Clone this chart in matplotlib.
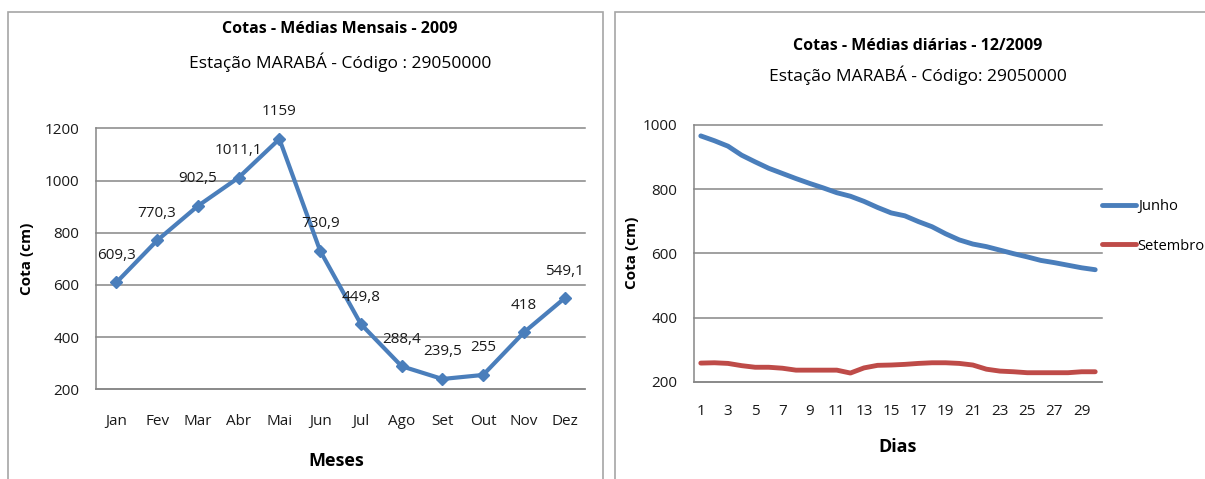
import numpy as np
import matplotlib
matplotlib.use("Agg")
import matplotlib.pyplot as plt
from matplotlib.patches import Rectangle

plt.rcParams['font.family'] = ['Open Sans', 'DejaVu Sans']

# monthly means, 2009
meses = ['Jan', 'Fev', 'Mar', 'Abr', 'Mai', 'Jun', 'Jul', 'Ago', 'Set', 'Out', 'Nov', 'Dez']
cota_mensal = [609.3, 770.3, 902.5, 1011.1, 1159, 730.9, 449.8, 288.4, 239.5, 255, 418, 549.1]

# daily means
dias = list(range(1, 31))
junho = [966, 951, 934, 906, 885, 865, 849, 833, 818, 804,
         789, 778, 762, 743, 726, 717, 699, 683, 661, 642,
         629, 621, 610, 599, 589, 578, 571, 563, 555, 549]
setembro = [258, 259, 257, 250, 245, 245, 242, 236, 236, 236,
            236, 227, 243, 251, 252, 254, 257, 259, 259, 257,
            252, 239, 233, 231, 228, 228, 228, 228, 231, 231]

AZUL = '#4A7EBB'
VERMELHO = '#BE4B48'
GRADE = '#868686'

W, H = 1205, 479
fig = plt.figure(figsize=(W / 100, H / 100), dpi=100)


def caixa(x0, y0, x1, y1):
    # pixel box (top-left origin) -> figure fraction rect
    return [x0 / W, 1 - y1 / H, (x1 - x0) / W, (y1 - y0) / H]


# chart frames
for x0, x1 in [(8, 603), (615, 1215)]:
    fig.patches.append(Rectangle((x0 / W, 1 - 490 / H), (x1 - x0) / W, (490 - 12) / H,
                                 transform=fig.transFigure, fill=False,
                                 ec='#a6a6a6', lw=1.2))


def estilo(ax):
    ax.grid(axis='y', color=GRADE, lw=1.1)
    for gl in ax.get_ygridlines():
        gl.set_clip_on(False)
    ax.set_axisbelow(True)
    ax.spines['top'].set_visible(False)
    ax.spines['right'].set_visible(False)
    ax.spines['left'].set_color(GRADE)
    ax.spines['bottom'].set_color(GRADE)
    ax.spines['left'].set_linewidth(1.1)
    ax.spines['bottom'].set_linewidth(1.1)
    ax.tick_params(length=0, labelsize=11, colors='#1a1a1a')
    ax.tick_params(axis='y', pad=12)
    ax.set_facecolor('none')


# --- monthly chart ---
ax1 = fig.add_axes(caixa(96, 128.3, 585, 389.3))
x = np.arange(len(meses))
ax1.plot(x, cota_mensal, color=AZUL, lw=3, marker='D', ms=6, zorder=3, clip_on=False)
ax1.set_xlim(-0.5, 11.5)
ax1.set_ylim(200, 1200)
ax1.set_yticks(range(200, 1201, 200))
ax1.set_xticks(x)
ax1.set_xticklabels(meses)
estilo(ax1)
ax1.tick_params(axis='x', pad=18)
for xi, v in zip(x, cota_mensal):
    ax1.annotate(f"{v:g}".replace('.', ','), (xi, v), textcoords='offset points',
                 xytext=(0, 19.5), ha='center', va='center', fontsize=11, color='#1a1a1a')

fig.text(340 / W, 1 - 29 / H, 'Cotas - Médias Mensais - 2009', ha='center', va='center',
         fontsize=11.5, fontweight='bold')
fig.text(340 / W, 1 - 62 / H, 'Estação MARABÁ - Código : 29050000', ha='center', va='center',
         fontsize=12.5)
fig.text(27 / W, 1 - 259 / H, 'Cota (cm)', rotation=90, ha='center', va='center',
         fontsize=11, fontweight='bold')
fig.text(336 / W, 1 - 461 / H, 'Meses', ha='center', va='center',
         fontsize=13, fontweight='bold')

# --- daily chart ---
ax2 = fig.add_axes(caixa(694, 125, 1102, 381.7))
ax2.plot(dias, junho, color=AZUL, lw=3.5, label='Junho', solid_capstyle='round')
ax2.plot(dias, setembro, color=VERMELHO, lw=3.5, label='Setembro', solid_capstyle='round')
ax2.set_xlim(0.5, 30.5)
ax2.set_ylim(200, 1000)
ax2.set_yticks(range(200, 1001, 200))
ax2.set_xticks(dias[::2])
estilo(ax2)
ax2.tick_params(axis='x', pad=16)
ax2.legend(loc='center left', bbox_to_anchor=(1.0, (381.7 - 226.5) / (381.7 - 125)),
           frameon=False, fontsize=10.5, handlelength=2.3, handletextpad=0.15,
           labelspacing=1.65, borderaxespad=0, borderpad=0)

fig.text(918 / W, 1 - 46 / H, 'Cotas - Médias diárias - 12/2009', ha='center', va='center',
         fontsize=11.5, fontweight='bold')
fig.text(918 / W, 1 - 75 / H, 'Estação MARABÁ - Código: 29050000', ha='center', va='center',
         fontsize=12.5)
fig.text(632 / W, 1 - 253 / H, 'Cota (cm)', rotation=90, ha='center', va='center',
         fontsize=11, fontweight='bold')
fig.text(898 / W, 1 - 447 / H, 'Dias', ha='center', va='center',
         fontsize=13, fontweight='bold')

fig.savefig('out.png', dpi=100)
